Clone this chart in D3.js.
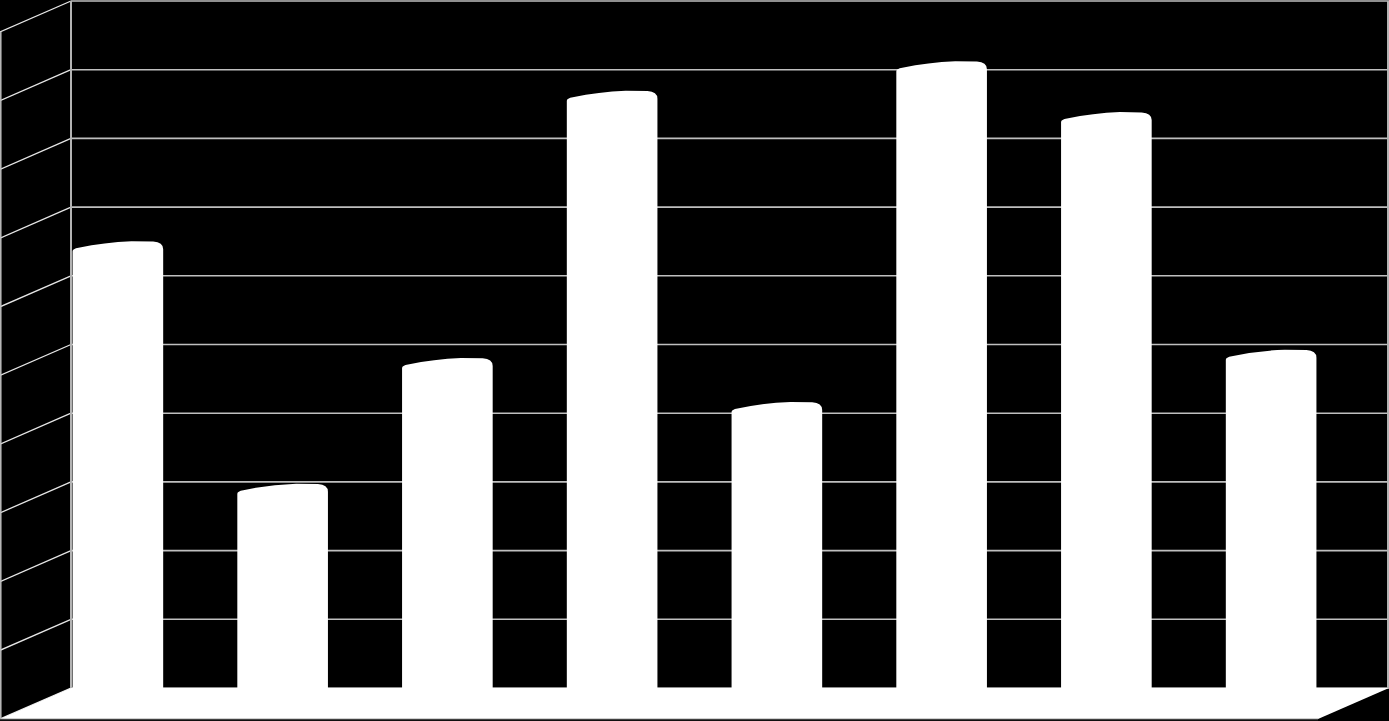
<!DOCTYPE html>
<html>
<head>
<meta charset="utf-8">
<script src="https://cdn.jsdelivr.net/npm/d3@7/dist/d3.min.js"></script>
<style>
html,body{margin:0;padding:0;background:#000;overflow:hidden;}
svg{display:block;}
</style>
</head>
<body>
<svg id="chart" width="1389" height="721"></svg>
<script>
// Data (values in gridline units; no labels are visible in the reference)
const categories = ["1", "2", "3", "4", "5", "6", "7", "8"];
const values = [6.73, 3.2, 5.03, 8.92, 4.39, 9.35, 8.61, 5.15];
const yTicks = [0, 1, 2, 3, 4, 5, 6, 7, 8, 9, 10];

const W = 1389, H = 721;
const wallLeft = 71, wallRight = 1389, wallTop = 1, wallBottom = 688;
const depthX = -71, depthY = 31; // offset from back wall to front

const svg = d3.select("#chart");

const x = d3.scaleBand().domain(categories).range([wallLeft, wallRight]).paddingInner(0).paddingOuter(0);
const y = d3.scaleLinear().domain([0, 10]).range([wallBottom, wallTop]);

// background
svg.append("rect").attr("x", 0).attr("y", 0).attr("width", W).attr("height", H).attr("fill", "#000");

// left side wall
svg.append("path")
  .attr("d", `M${wallLeft},${y(10)} L${wallLeft},${y(0)} L${wallLeft + depthX},${y(0) + depthY} L${wallLeft + depthX},${y(10) + depthY} Z`)
  .attr("fill", "#000");

// side wall gridlines (diagonals)
svg.append("g").selectAll("line").data(yTicks).join("line")
  .attr("x1", wallLeft).attr("y1", d => y(d))
  .attr("x2", wallLeft + depthX).attr("y2", d => y(d) + depthY)
  .attr("stroke", "#e6e6e6").attr("stroke-width", 1.3);

// side wall left edge
svg.append("line")
  .attr("x1", 0.8).attr("x2", 0.8)
  .attr("y1", y(10) + depthY).attr("y2", y(0) + depthY)
  .attr("stroke", "#bfbfbf").attr("stroke-width", 1.5);

// back wall gridlines
svg.append("g").selectAll("line").data(yTicks).join("line")
  .attr("x1", wallLeft).attr("x2", wallRight)
  .attr("y1", d => y(d)).attr("y2", d => y(d))
  .attr("stroke", "#bfbfbf").attr("stroke-width", 1.6);

// back wall vertical edges
svg.append("line")
  .attr("x1", wallLeft).attr("x2", wallLeft)
  .attr("y1", y(10)).attr("y2", y(0))
  .attr("stroke", "#b3b3b3").attr("stroke-width", 2);
svg.append("line")
  .attr("x1", wallRight - 1).attr("x2", wallRight - 1)
  .attr("y1", y(10)).attr("y2", y(0))
  .attr("stroke", "#b3b3b3").attr("stroke-width", 2);

// floor
svg.append("path")
  .attr("d", `M${wallLeft},${y(0)} L${wallRight},${y(0)} L${wallRight + depthX},${y(0) + depthY} L${wallLeft + depthX},${y(0) + depthY} Z`)
  .attr("fill", "#fff");
svg.append("line")
  .attr("x1", wallLeft + depthX).attr("x2", wallRight + depthX)
  .attr("y1", y(0) + depthY + 0.5).attr("y2", y(0) + depthY + 0.5)
  .attr("stroke", "#404040").attr("stroke-width", 1.5);

// bars at mid-depth
const midDX = depthX / 2, midDY = depthY / 2;
const barFrac = 0.55;
function barPath(d, i) {
  const c = categories[i];
  const bw = x.bandwidth() * barFrac;
  const x0 = x(c) + (x.bandwidth() - bw) / 2 + midDX;
  const x1 = x0 + bw;
  const yp = y(d) + midDY;
  const yb = y(0) + midDY;
  const w = bw;
  return `M${x0},${yb} L${x0},${yp + 10} Q${x0},${yp + 7.5} ${x0 + 6},${yp + 6.5}` +
         ` Q${x0 + 0.35 * w},${yp + 1} ${x0 + 0.65 * w},${yp}` +
         ` L${x1 - 10},${yp + 0.4} Q${x1},${yp + 1.2} ${x1},${yp + 8} L${x1},${yb} Z`;
}
svg.append("g").selectAll("path").data(values).join("path")
  .attr("d", (d, i) => barPath(d, i))
  .attr("fill", "#fff");
</script>
</body>
</html>
